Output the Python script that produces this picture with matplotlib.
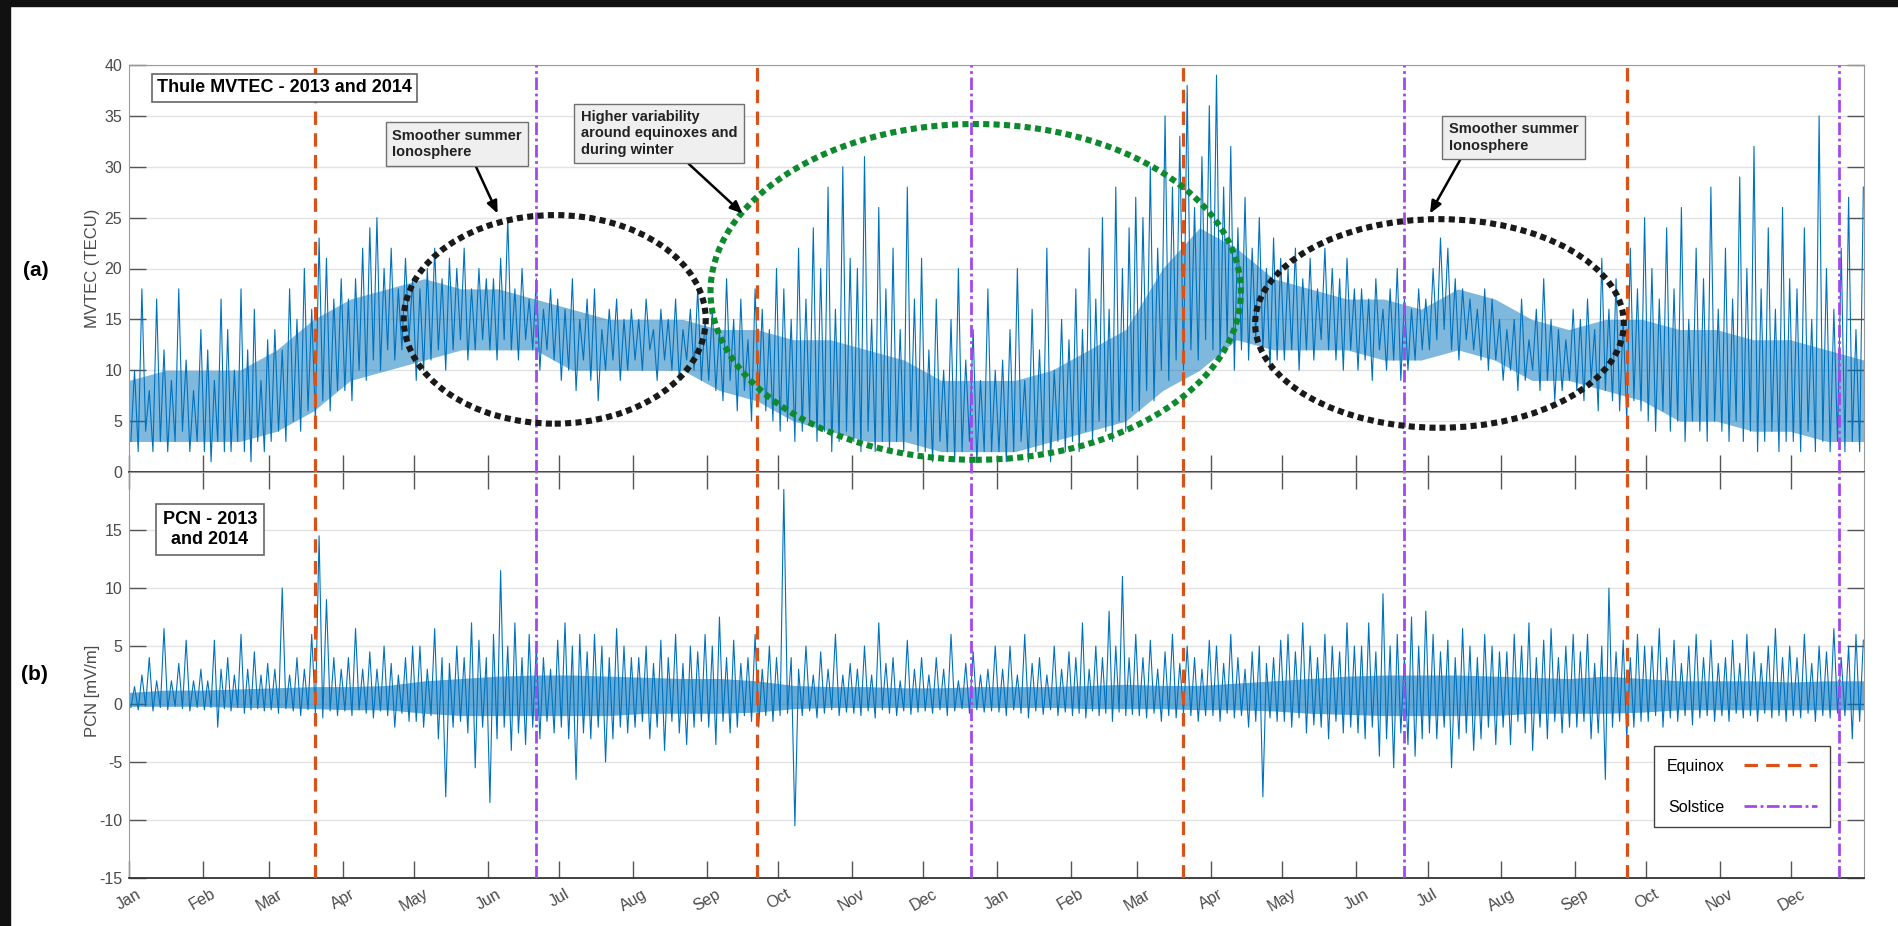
"""Thule MVTEC and PCN index, 2013-2014, with equinox/solstice markers."""
import matplotlib
matplotlib.use("Agg")
import matplotlib.pyplot as plt
import matplotlib.dates as mdates
import numpy as np
import pandas as pd
from matplotlib.lines import Line2D
from matplotlib.patches import Ellipse, Rectangle

plt.rcParams["font.family"] = ["Liberation Sans", "DejaVu Sans"]
plt.rcParams["axes.unicode_minus"] = False

# Per-month troughs / peaks (10 of each per month), MVTEC in TECU
tec_lo_2013 = [
    3, 2, 4, 2, 3, 2, 3, 4, 2, 3,
    2, 1, 3, 2, 2, 3, 2, 1, 3, 2,
    3, 4, 3, 5, 4, 6, 5, 7, 6, 8,
    8, 7, 10, 9, 11, 10, 12, 11, 12, 13,
    9, 10, 11, 12, 10, 12, 13, 11, 12, 13,
    12, 11, 13, 12, 11, 13, 12, 10, 12, 11,
    9, 10, 8, 11, 9, 7, 10, 11, 9, 10,
    11, 10, 12, 9, 11, 10, 9, 11, 10, 9,
    9, 8, 7, 9, 6, 8, 5, 7, 6, 5,
    4, 5, 3, 4, 5, 3, 4, 2, 3, 4,
    3, 2, 4, 2, 3, 2, 3, 2, 4, 2,
    2, 1, 3, 2, 1, 2, 3, 1, 2, 2,
]
tec_hi_2013 = [
    10, 18, 8, 17, 12, 9, 18, 11, 8, 14,
    12, 9, 17, 14, 10, 18, 12, 16, 9, 13,
    14, 12, 18, 15, 20, 16, 23, 21, 17, 19,
    17, 19, 22, 24, 25, 20, 22, 18, 21, 19,
    18, 20, 22, 19, 21, 20, 22, 18, 20, 19,
    19, 21, 25, 18, 20, 17, 19, 16, 18, 17,
    16, 19, 15, 17, 18, 14, 16, 17, 15, 16,
    15, 17, 14, 16, 15, 17, 14, 16, 18, 15,
    16, 14, 19, 15, 17, 13, 18, 16, 14, 20,
    18, 15, 22, 17, 24, 20, 28, 16, 30, 21,
    20, 31, 15, 26, 18, 22, 14, 28, 17, 21,
    12, 17, 10, 15, 20, 11, 14, 9, 18, 10,
]
tec_lo_2014 = [
    2, 1, 2, 3, 1, 2, 2, 1, 3, 2,
    3, 2, 4, 3, 5, 4, 3, 5, 4, 6,
    6, 8, 7, 10, 9, 11, 10, 12, 11, 13,
    12, 11, 13, 10, 12, 11, 13, 12, 10, 11,
    11, 12, 10, 12, 11, 13, 12, 11, 10, 12,
    10, 11, 9, 12, 10, 11, 9, 10, 11, 12,
    12, 13, 14, 12, 11, 13, 12, 11, 10, 11,
    9, 10, 8, 9, 10, 8, 9, 7, 8, 9,
    8, 7, 9, 6, 8, 7, 6, 5, 7, 6,
    5, 4, 6, 4, 5, 3, 5, 4, 3, 5,
    4, 3, 5, 3, 4, 2, 3, 4, 2, 3,
    3, 2, 4, 2, 3, 2, 3, 2, 3, 2,
]
tec_hi_2014 = [
    11, 14, 20, 9, 16, 12, 22, 10, 15, 13,
    18, 14, 22, 17, 25, 16, 28, 20, 24, 27,
    25, 30, 22, 35, 28, 33, 38, 26, 31, 36,
    39, 28, 32, 24, 27, 22, 25, 20, 23, 21,
    20, 22, 19, 21, 18, 22, 20, 19, 21, 18,
    18, 17, 19, 16, 18, 20, 17, 16, 18, 17,
    20, 23, 22, 19, 18, 17, 16, 18, 17, 15,
    14, 15, 17, 13, 16, 19, 15, 14, 13, 16,
    15, 17, 14, 21, 16, 19, 15, 22, 18, 25,
    20, 17, 24, 18, 26, 15, 22, 19, 28, 16,
    22, 17, 29, 20, 32, 18, 24, 16, 26, 19,
    18, 24, 15, 35, 20, 16, 22, 27, 14, 28,
]
# dense part of the MVTEC trace, two values per month (1st / 2nd half)
tec_core_lo = [
    3, 3, 3, 3, 4, 6, 9, 10, 11, 12, 12, 12,
    10, 10, 10, 10, 8, 7, 5, 4, 3, 3, 2, 2,
    2, 3, 4, 5, 8, 10, 13, 12, 12, 12, 11, 11,
    12, 11, 9, 9, 8, 7, 5, 5, 4, 4, 3, 3,
]
tec_core_hi = [
    9, 10, 10, 10, 12, 15, 17, 18, 19, 18, 18, 17,
    16, 15, 15, 15, 14, 14, 13, 13, 12, 11, 9, 9,
    9, 10, 12, 14, 20, 24, 22, 19, 18, 17, 17, 16,
    18, 17, 15, 14, 15, 15, 14, 14, 13, 13, 12, 11,
]

# PCN index in mV/m, same layout
pcn_lo_2013 = [
    -0.3, -0.5, -0.2, -0.6, -0.3, -0.5, -0.2, -0.4, -0.6, -0.3,
    -0.5, -0.3, -2.0, -0.4, -0.6, -0.3, -0.8, -0.5, -0.4, -0.6,
    -0.5, -0.8, -0.4, -0.6, -1.0, -0.5, -0.8, -1.2, -0.6, -1.0,
    -0.6, -1.0, -0.5, -0.8, -1.2, -0.6, -1.0, -2.0, -0.8, -1.5,
    -1.5, -2.0, -1.0, -3.0, -8.0, -2.0, -1.5, -2.5, -5.5, -2.0,
    -8.5, -3.0, -2.0, -4.0, -2.5, -3.5, -2.0, -3.0, -1.5, -2.5,
    -2.0, -3.0, -6.5, -2.5, -3.0, -2.0, -5.0, -3.0, -2.0, -2.5,
    -2.0, -1.5, -3.0, -2.0, -4.0, -1.5, -2.5, -3.5, -2.0, -1.5,
    -2.0, -3.5, -1.5, -2.5, -2.0, -1.0, -1.5, -2.0, -1.0, -1.5,
    -1.0, -0.8, -10.5, -1.0, -0.6, -1.2, -0.8, -0.5, -1.0, -0.7,
    -0.8, -1.0, -0.6, -1.2, -0.5, -0.8, -1.0, -0.6, -0.9, -0.7,
    -0.6, -0.8, -0.5, -1.0, -0.6, -0.4, -0.8, -0.5, -0.7, -0.6,
]
pcn_hi_2013 = [
    1.5, 2.5, 4.0, 2.0, 6.5, 2.0, 3.5, 5.5, 2.0, 3.0,
    2.0, 5.5, 3.0, 4.0, 2.5, 6.0, 3.0, 4.5, 2.5, 3.5,
    3.0, 10.0, 2.5, 4.0, 3.0, 6.0, 14.5, 9.0, 4.0, 3.0,
    4.0, 6.5, 3.0, 4.5, 3.0, 5.0, 3.5, 2.5, 4.0, 5.0,
    5.0, 3.0, 6.5, 4.0, 3.5, 5.0, 4.0, 7.0, 5.5, 4.0,
    6.0, 11.5, 5.0, 7.0, 4.0, 6.0, 5.0, 4.0, 3.0, 5.5,
    7.0, 5.0, 6.0, 4.5, 6.0, 5.0, 4.0, 6.5, 5.0, 4.0,
    4.0, 5.0, 3.5, 5.5, 4.0, 6.0, 3.5, 5.0, 4.5, 6.0,
    5.0, 7.5, 4.0, 5.5, 3.5, 4.0, 6.0, 3.0, 5.0, 4.0,
    18.5, 4.0, 3.0, 5.0, 2.5, 4.5, 3.0, 6.0, 2.5, 3.5,
    3.0, 5.0, 2.5, 7.0, 3.5, 4.0, 2.0, 5.5, 3.0, 4.0,
    2.5, 4.0, 3.0, 6.0, 2.0, 3.5, 4.5, 2.5, 3.0, 5.0,
]
pcn_lo_2014 = [
    -0.7, -1.0, -0.5, -0.8, -1.2, -0.6, -0.9, -0.5, -1.0, -0.7,
    -1.0, -0.8, -1.2, -0.6, -1.0, -0.8, -1.5, -0.7, -1.0, -0.9,
    -1.0, -1.2, -0.8, -1.5, -1.0, -1.2, -0.8, -1.0, -1.5, -1.0,
    -1.0, -1.5, -0.8, -1.2, -1.0, -2.0, -1.5, -8.0, -1.2, -1.5,
    -1.5, -2.0, -1.2, -2.5, -1.8, -2.0, -3.0, -1.5, -2.5, -2.0,
    -2.5, -3.0, -2.0, -4.5, -3.0, -5.5, -2.5, -3.5, -4.5, -3.0,
    -2.5, -3.0, -2.0, -5.5, -3.0, -2.5, -4.0, -3.0, -2.0, -3.5,
    -2.0, -3.5, -1.5, -2.5, -4.0, -2.0, -3.0, -1.5, -2.5, -2.0,
    -2.0, -1.5, -3.0, -2.5, -6.5, -2.0, -1.5, -3.0, -2.0, -1.5,
    -1.5, -1.0, -2.0, -1.2, -1.5, -1.0, -1.8, -1.2, -1.0, -1.5,
    -1.0, -1.5, -0.8, -1.2, -1.0, -1.5, -0.8, -1.2, -1.0, -1.5,
    -1.0, -1.2, -0.8, -1.5, -1.0, -1.2, -0.8, -1.0, -3.0, -1.5,
]
pcn_hi_2014 = [
    3.0, 5.0, 2.5, 6.0, 3.5, 4.0, 2.5, 5.0, 3.0, 4.5,
    4.0, 7.0, 3.0, 5.0, 4.0, 8.0, 5.0, 11.0, 4.0, 6.0,
    4.0, 5.5, 3.0, 4.5, 6.0, 3.5, 5.0, 4.0, 3.0, 5.5,
    5.0, 3.5, 6.0, 4.0, 3.0, 4.5, 5.0, 3.5, 4.0, 5.5,
    6.0, 4.5, 7.0, 5.0, 4.0, 6.0, 5.0, 4.5, 7.0, 5.0,
    5.0, 7.0, 4.5, 9.5, 5.0, 6.0, 4.0, 7.5, 5.0, 8.0,
    6.0, 4.5, 5.5, 4.0, 6.5, 5.0, 4.0, 6.0, 5.0, 4.5,
    4.5, 6.0, 5.0, 7.0, 4.0, 5.5, 6.5, 4.0, 5.0, 6.0,
    4.5, 6.0, 3.5, 5.0, 10.0, 4.5, 5.5, 4.0, 6.0, 5.0,
    5.0, 6.5, 4.0, 5.5, 3.5, 5.0, 6.0, 4.0, 5.5, 3.5,
    4.0, 5.5, 3.5, 6.0, 4.5, 3.5, 5.0, 6.5, 4.0, 5.0,
    4.0, 6.0, 3.5, 5.0, 4.5, 6.5, 4.0, 5.0, 6.0, 5.5,
]
pcn_core_lo = [
    -0.2, -0.2, -0.2, -0.3, -0.3, -0.4, -0.5, -0.5, -0.8, -1.0, -1.0, -1.0,
    -1.0, -1.0, -0.8, -0.8, -0.8, -0.7, -0.4, -0.3, -0.3, -0.3, -0.3, -0.3,
    -0.3, -0.3, -0.4, -0.4, -0.4, -0.5, -0.5, -0.6, -0.8, -0.9, -1.0, -1.0,
    -1.0, -1.0, -0.8, -0.8, -0.8, -0.7, -0.5, -0.5, -0.5, -0.5, -0.5, -0.5,
]
pcn_core_hi = [
    1.0, 1.2, 1.2, 1.3, 1.4, 1.5, 1.5, 1.6, 2.0, 2.2, 2.4, 2.5,
    2.5, 2.4, 2.3, 2.2, 2.2, 2.0, 1.6, 1.5, 1.5, 1.4, 1.4, 1.5,
    1.5, 1.5, 1.6, 1.7, 1.6, 1.6, 1.8, 2.0, 2.2, 2.4, 2.5, 2.5,
    2.5, 2.4, 2.3, 2.2, 2.4, 2.2, 2.0, 2.0, 2.0, 1.9, 2.0, 2.0,
]

equinoxes = ["2013-03-20", "2013-09-22", "2014-03-20", "2014-09-23"]
solstices = ["2013-06-21", "2013-12-21", "2014-06-21", "2014-12-21"]

# (centre date, width in days, centre value, height) of the highlighted regions
summer_2013 = ("2013-06-29", 127, 15.0, 20.5)
winter_1314 = ("2013-12-23", 223, 17.7, 33.0)
summer_2014 = ("2014-07-06", 155, 14.6, 20.5)

BLUE = "#0072BD"
EQ_COLOR = "#D95319"
SOL_COLOR = "#A347F0"
TICK_GRAY = "#4a4a4a"
PER_MONTH = 10
MONTHS = pd.date_range("2013-01-01", periods=24, freq="MS")


def month_grid(n):
    """n evenly spaced sample times inside every month."""
    times = []
    for m in MONTHS:
        offs = (np.arange(n) + 0.5) / n * m.days_in_month
        times.append(mdates.date2num(m + pd.to_timedelta(offs, unit="D")))
    return np.concatenate(times)


def build_series(lo, hi):
    """Interleave troughs and peaks in time order."""
    return month_grid(2 * PER_MONTH), np.column_stack([lo, hi]).ravel()


x0 = mdates.date2num(pd.Timestamp("2013-01-01"))
x1 = mdates.date2num(pd.Timestamp("2014-12-31 12:00"))

t_tec, v_tec = build_series(tec_lo_2013 + tec_lo_2014, tec_hi_2013 + tec_hi_2014)
t_pcn, v_pcn = build_series(pcn_lo_2013 + pcn_lo_2014, pcn_hi_2013 + pcn_hi_2014)
# half-month envelope samples spanning the whole record
t_core = np.linspace(x0, x1, len(tec_core_lo))

W, H = 1899, 926
fig = plt.figure(figsize=(W / 100, H / 100), dpi=100)
left, right = 129 / W, 1864 / W
ax1 = fig.add_axes([left, 1 - 472 / H, right - left, (472 - 65) / H])
ax2 = fig.add_axes([left, 1 - 878 / H, right - left, (878 - 472) / H])

ax1.fill_between(t_core, tec_core_lo, tec_core_hi, color=BLUE, alpha=0.5,
                 lw=0, zorder=2)
ax1.plot(t_tec, v_tec, color=BLUE, lw=0.8, zorder=2)
ax2.fill_between(t_core, pcn_core_lo, pcn_core_hi, color=BLUE, alpha=0.6,
                 lw=0, zorder=2)
ax2.plot(t_pcn, v_pcn, color=BLUE, lw=0.8, zorder=2)

ax1.set_ylim(0, 40)
ax1.set_yticks(np.arange(0, 41, 5))
ax2.set_ylim(-15, 20)
ax2.set_yticks(np.arange(-15, 16, 5))

for ax in (ax1, ax2):
    ax.set_xlim(x0, x1)
    ax.xaxis.set_major_locator(mdates.MonthLocator())
    ax.xaxis.set_major_formatter(mdates.DateFormatter("%b"))
    ax.grid(axis="y", color="#e3e3e3", lw=1.0, zorder=0)
    ax.tick_params(axis="both", direction="in", length=12, width=1.0,
                   colors="#555555", labelcolor=TICK_GRAY, labelsize=11.5)
    ax.tick_params(axis="y", right=True, pad=5)
    for side in ("left", "right", "top"):
        ax.spines[side].set_color("#9a9a9a")
    ax.spines["bottom"].set_color("#333333")
    ax.spines["bottom"].set_linewidth(1.3)
    for d in equinoxes:
        ax.axvline(mdates.date2num(pd.Timestamp(d)), color=EQ_COLOR, lw=2.3,
                   dashes=(4.2, 2.6), zorder=3)
    for d in solstices:
        ax.axvline(mdates.date2num(pd.Timestamp(d)), color=SOL_COLOR, lw=2.0,
                   dashes=(4.5, 1.3, 1.0, 1.3), zorder=3)

ax1.tick_params(axis="x", labelbottom=False)
ax2.tick_params(axis="x", top=True, pad=6)
for lab in ax2.get_xticklabels():
    lab.set_rotation(30)
    lab.set_ha("center")

ax1.set_ylabel("MVTEC (TECU)", fontsize=12, color=TICK_GRAY)
ax2.set_ylabel("PCN [mV/m]", fontsize=12, color=TICK_GRAY)
ax1.yaxis.set_label_coords(-0.0167, 0.5)
ax2.yaxis.set_label_coords(-0.0167, 0.46)

fig.text(36 / W, 1 - 270 / H, "(a)", fontsize=15, fontweight="bold",
         ha="center", va="center")
fig.text(34 / W, 1 - 675 / H, "(b)", fontsize=15, fontweight="bold",
         ha="center", va="center")

# highlighted regions
for (cd, wd, cy, hy), col in ((summer_2013, "#1a1a1a"), (winter_1314, "#0e8a2e"),
                              (summer_2014, "#1a1a1a")):
    ax1.add_patch(Ellipse((mdates.date2num(pd.Timestamp(cd)), cy), wd, hy,
                          fill=False, ec=col, lw=4.4, ls=(0, (1.0, 0.7)),
                          zorder=5))

# panel titles
ax1.text(0.0161, 0.9435, "Thule MVTEC - 2013 and 2014", transform=ax1.transAxes,
         fontsize=13, fontweight="bold", ha="left", va="center", zorder=6,
         bbox=dict(boxstyle="square,pad=0.3", fc="white", ec="#666666", lw=1.2))
ax2.text(0.0467, 0.858, "PCN - 2013\nand 2014", transform=ax2.transAxes,
         fontsize=13, fontweight="bold", ha="center", va="center",
         multialignment="center", zorder=6, linespacing=1.2,
         bbox=dict(boxstyle="square,pad=0.4", fc="white", ec="#666666", lw=1.2))

# call-outs
box = dict(boxstyle="square,pad=0.45", fc="#efefef", ec="#707070", lw=1.0)
callouts = [
    ("Smoother summer\nIonosphere", (0.189, 0.806), "2013-06-05", 25.4, 0.62),
    ("Higher variability\naround equinoxes and\nduring winter", (0.3055, 0.8317),
     "2013-09-16", 25.4, 0.64),
    ("Smoother summer\nIonosphere", (0.798, 0.822), "2014-07-02", 25.4, 0.12),
]
for txt, xy_txt, tip_date, tip_y, rel in callouts:
    ax1.annotate(txt, xy=(mdates.date2num(pd.Timestamp(tip_date)), tip_y),
                 xycoords="data", xytext=xy_txt, textcoords="axes fraction",
                 fontsize=10.5, fontweight="bold", color="#222222",
                 ha="center", va="center", multialignment="left", zorder=7,
                 bbox=box,
                 arrowprops=dict(arrowstyle="-|>,head_length=0.7,head_width=0.3",
                                 color="black", lw=1.8, relpos=(rel, 0.0),
                                 shrinkA=0, shrinkB=0))

handles = [
    Line2D([], [], color=EQ_COLOR, lw=2.3, dashes=(4.2, 2.6)),
    Line2D([], [], color=SOL_COLOR, lw=2.0, dashes=(4.5, 1.3, 1.0, 1.3)),
]
leg = ax2.legend(handles, ["Equinox", "Solstice"], loc="lower left",
                 bbox_to_anchor=(0.8745, 0.105), markerfirst=False,
                 fontsize=11.5, handlelength=4.6, handletextpad=1.2,
                 labelspacing=1.6, borderpad=0.8, fancybox=False,
                 framealpha=1.0, edgecolor="#444444")
leg.get_frame().set_linewidth(1.0)
leg.set_zorder(8)

# dark frame along the top and left edge of the image
fig.patches.append(Rectangle((0, 1 - 6 / H), 1, 6 / H, transform=fig.transFigure,
                             color="#111111", zorder=10))
fig.patches.append(Rectangle((0, 0), 10 / W, 1, transform=fig.transFigure,
                             color="#111111", zorder=10))

fig.savefig("out.png", dpi=100)
